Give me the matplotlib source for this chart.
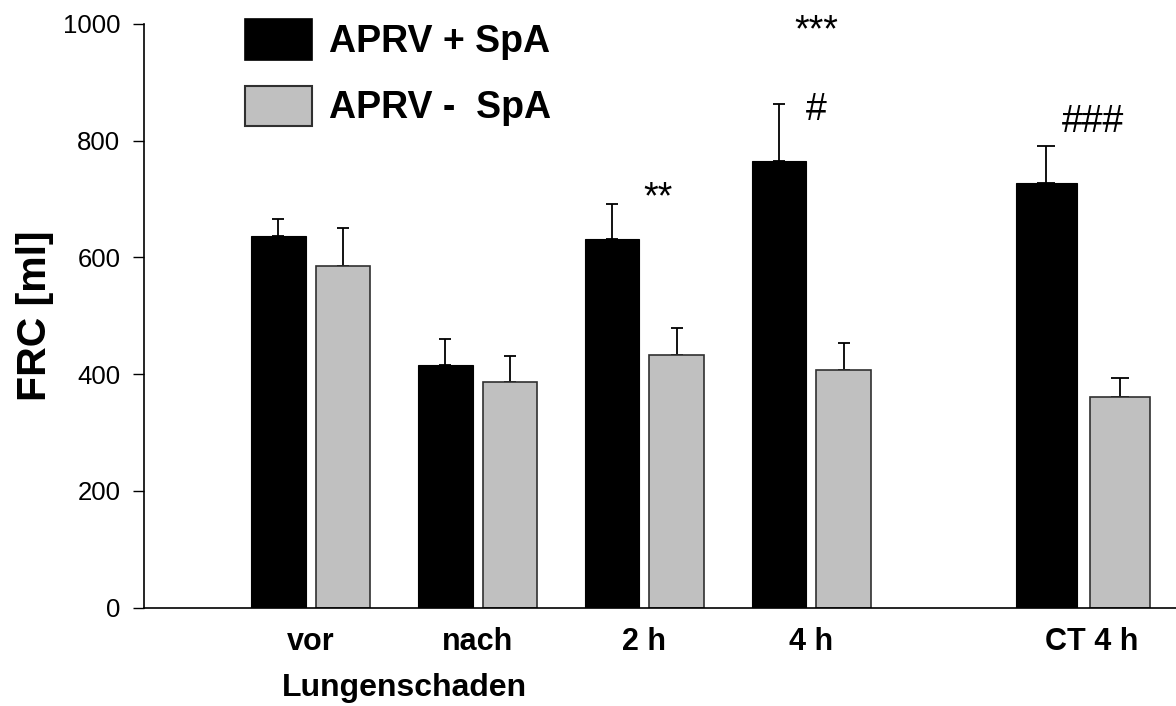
import numpy as np
import matplotlib.pyplot as plt
from matplotlib.patches import Patch

plt.rcParams['font.family'] = ['Liberation Sans', 'DejaVu Sans']

categories = ['vor', 'nach', '2 h', '4 h', 'CT 4 h']
with_spa = [636, 416, 632, 765, 728]
with_spa_err = [30, 45, 60, 98, 63]
without_spa = [585, 387, 433, 407, 361]
without_spa_err = [66, 45, 47, 47, 32]

# the CT group sits apart from the time course and uses slightly wider bars
group_x = np.array([1, 2, 3, 4, 5.63])
widths = np.array([0.327, 0.327, 0.327, 0.327, 0.363])
half_step = np.array([0.194, 0.194, 0.194, 0.194, 0.22])
capsizes = [4.3, 4.3, 4.3, 4.3, 6.5]

BLACK = '#000000'
GREY = '#c0c0c0'

fig = plt.figure(figsize=(11.76, 7.06), dpi=100)
ax = fig.add_axes([144 / 1176, 1 - 607.7 / 706, 1032 / 1176, 583.7 / 706])

x_black = group_x - half_step
x_grey = group_x + half_step

ax.bar(x_black, with_spa, width=widths, color=BLACK, edgecolor=BLACK, linewidth=0.8, zorder=2)
ax.bar(x_grey, without_spa, width=widths, color=GREY, edgecolor='#303030', linewidth=1.2, zorder=2)

for i in range(len(categories)):
    ax.errorbar(x_black[i], with_spa[i], yerr=[[0], [with_spa_err[i]]], fmt='none',
                ecolor='black', elinewidth=1.3, capsize=capsizes[i], capthick=1.3, zorder=1)
    ax.errorbar(x_grey[i], without_spa[i], yerr=[[0], [without_spa_err[i]]], fmt='none',
                ecolor='black', elinewidth=1.3, capsize=capsizes[i], capthick=1.3, zorder=1)

# significance marks
marks = [('**', 3.08, 685), ('***', 4.03, 971), ('#', 4.03, 836), ('###', 5.69, 815)]
for s, mx, my in marks:
    ax.text(mx, my, s, ha='center', va='baseline', fontsize=27, clip_on=False)

ax.set_xlim(0, 6.187)
ax.set_ylim(0, 1000)
ax.set_yticks([0, 200, 400, 600, 800, 1000])
ax.tick_params(axis='y', direction='out', length=8, width=1, labelsize=18.5, pad=9)
ax.set_xticks(group_x + np.array([0, 0, 0, 0, 0.05]))
ax.set_xticklabels(categories, fontsize=22, fontweight='bold')
ax.tick_params(axis='x', length=0, pad=14)

for side in ['top', 'right']:
    ax.spines[side].set_visible(False)
ax.spines['left'].set_linewidth(1.2)
ax.spines['bottom'].set_linewidth(1.2)

ax.set_ylabel('FRC [ml]', fontsize=29.5, fontweight='bold')
ax.yaxis.set_label_coords(54 / 1176, 1 - 316 / 706, transform=fig.transFigure)

fig.text(404 / 1176, 1 - 688 / 706, 'Lungenschaden', ha='center', va='center',
         fontsize=23, fontweight='bold')

handles = [Patch(facecolor=BLACK, edgecolor=BLACK, linewidth=1.2),
           Patch(facecolor=GREY, edgecolor='#303030', linewidth=1.5)]
ax.legend(handles, ['APRV + SpA', 'APRV -  SpA'], loc='upper left',
          bbox_to_anchor=(245 / 1176, 1 - 19 / 706), bbox_transform=fig.transFigure,
          frameon=False, borderpad=0, borderaxespad=0, handlelength=1.79,
          handleheight=1.3, handletextpad=0.45, labelspacing=0.68,
          prop={'size': 27, 'weight': 'bold'})

fig.savefig('out.png', dpi=100)
